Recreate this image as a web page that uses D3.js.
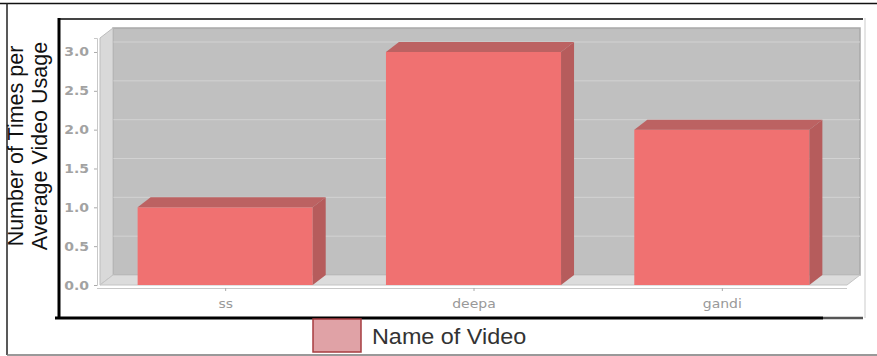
<!DOCTYPE html>
<html>
<head>
<meta charset="utf-8">
<script src="https://cdn.jsdelivr.net/npm/d3@7"></script>
<style>
  html, body { margin: 0; padding: 0; background: #fff; }
  svg { display: block; }
</style>
</head>
<body>
<svg id="chart" width="877" height="356"></svg>
<script>
// Video usage data
const categories = ["ss", "deepa", "gandi"];
const usageValues = [1.0, 3.0, 2.0];
const yTicks = [0.0, 0.5, 1.0, 1.5, 2.0, 2.5, 3.0];
const yTitleLines = ["Number of Times per", "Average Video Usage"];
const legendLabel = "Name of Video";

const svg = d3.select("#chart");

// 3D depth offset of the back wall relative to the front plane
const DX = 13, DY = -10;

// Front plane of the plot
const plot = { left: 100, right: 847, top: 38, bottom: 285 };

const y = d3.scaleLinear().domain([0, 3.18]).range([plot.bottom, plot.top]);
const x = d3.scalePoint().domain(categories).range([101, 846]).padding(0.5);
const barW = x.step() * 0.705;

// Outer frame
svg.append("line").attr("x1", 0).attr("x2", 877).attr("y1", 3.5).attr("y2", 3.5)
  .attr("stroke", "#111").attr("stroke-width", 1.5);
svg.append("line").attr("x1", 7).attr("x2", 7).attr("y1", 3).attr("y2", 355)
  .attr("stroke", "#222").attr("stroke-width", 1.5);
svg.append("line").attr("x1", 7).attr("x2", 877).attr("y1", 355).attr("y2", 355)
  .attr("stroke", "#777").attr("stroke-width", 1.5);

// Inner panel frame
svg.append("line").attr("x1", 58).attr("x2", 863).attr("y1", 19).attr("y2", 19)
  .attr("stroke", "#444").attr("stroke-width", 2);
svg.append("line").attr("x1", 865).attr("x2", 865).attr("y1", 18).attr("y2", 318)
  .attr("stroke", "#ddd").attr("stroke-width", 1.5);
svg.append("line").attr("x1", 59).attr("x2", 59).attr("y1", 18).attr("y2", 319)
  .attr("stroke", "#000").attr("stroke-width", 3);
svg.append("line").attr("x1", 55).attr("x2", 823).attr("y1", 318).attr("y2", 318)
  .attr("stroke", "#000").attr("stroke-width", 3);
svg.append("line").attr("x1", 823).attr("x2", 863).attr("y1", 318).attr("y2", 318)
  .attr("stroke", "#555").attr("stroke-width", 2.5);

// Back wall
const g = svg.append("g");
g.append("rect")
  .attr("x", plot.left + DX).attr("y", plot.top + DY)
  .attr("width", plot.right - plot.left).attr("height", plot.bottom - plot.top)
  .attr("fill", "#c0c0c0").attr("stroke", "#a9a9a9").attr("stroke-width", 1.5);

// Gridlines on the back wall
g.selectAll("line.grid").data(yTicks.filter(d => d > 0)).join("line")
  .attr("class", "grid")
  .attr("x1", plot.left + DX).attr("x2", plot.right + DX)
  .attr("y1", d => y(d) + DY).attr("y2", d => y(d) + DY)
  .attr("stroke", "#d2d2d2").attr("stroke-width", 1);

// Left wall and floor
g.append("polygon")
  .attr("points", [[plot.left, plot.top], [plot.left + DX, plot.top + DY],
    [plot.left + DX, plot.bottom + DY], [plot.left, plot.bottom]].join(" "))
  .attr("fill", "#d9d9d9").attr("stroke", "#bdbdbd").attr("stroke-width", 1);
g.append("polygon")
  .attr("points", [[plot.left, plot.bottom], [plot.left + DX, plot.bottom + DY],
    [plot.right + DX, plot.bottom + DY], [plot.right, plot.bottom]].join(" "))
  .attr("fill", "#dcdcdc").attr("stroke", "#c4c4c4").attr("stroke-width", 1);

// Bars
const bars = g.selectAll("g.bar").data(categories.map((c, i) => ({ c, v: usageValues[i] })))
  .join("g").attr("class", "bar");
bars.append("rect")
  .attr("x", d => x(d.c) - barW / 2).attr("y", d => y(d.v))
  .attr("width", barW).attr("height", d => y(0) - y(d.v))
  .attr("fill", "#f07171");
bars.append("polygon")
  .attr("points", d => {
    const x1 = x(d.c) + barW / 2, yt = y(d.v), yb = y(0);
    return [[x1, yt], [x1 + DX, yt + DY], [x1 + DX, yb + DY], [x1, yb]].join(" ");
  })
  .attr("fill", "#b65c5c");
bars.append("polygon")
  .attr("points", d => {
    const x0 = x(d.c) - barW / 2, x1 = x(d.c) + barW / 2, yt = y(d.v);
    return [[x0, yt], [x0 + DX, yt + DY], [x1 + DX, yt + DY], [x1, yt]].join(" ");
  })
  .attr("fill", "#bc6262");

// Y axis
const yAxis = svg.append("g").attr("transform", `translate(97,0)`)
  .call(d3.axisLeft(y).tickValues(yTicks).tickFormat(d3.format(".1f")).tickSize(3).tickPadding(5));
yAxis.select(".domain").attr("stroke", "#c8c8c8");
yAxis.selectAll(".tick line").attr("stroke", "#aaa");
yAxis.selectAll(".tick text")
  .attr("fill", "#a2a2a2")
  .style("font-family", "'DejaVu Sans', Verdana, sans-serif")
  .style("font-size", "12.5px")
  .style("font-weight", "bold")
  .attr("transform", function () {
    const xx = +d3.select(this).attr("x");
    return `translate(${xx},0) scale(1.12,1) translate(${-xx},0)`;
  });

// X axis
const xAxis = svg.append("g").attr("transform", `translate(0,288)`)
  .call(d3.axisBottom(x).tickSize(3).tickPadding(8));
xAxis.select(".domain").attr("d", `M97,0.5H${plot.right}`).attr("stroke", "#c8c8c8");
xAxis.selectAll(".tick line").attr("stroke", "#aaa");
xAxis.selectAll(".tick text")
  .attr("fill", "#999")
  .style("font-family", "'DejaVu Sans', Verdana, sans-serif")
  .style("font-size", "12.5px")
  .attr("transform", "scale(1.12,1)");

// Y axis title
const title = svg.append("text")
  .attr("transform", "translate(23,146) rotate(-90)")
  .attr("text-anchor", "middle")
  .style("font-family", "'Liberation Sans', Arial, sans-serif")
  .style("font-size", "21.5px")
  .attr("fill", "#111");
title.append("tspan").attr("x", 0).attr("y", 0).text(yTitleLines[0]);
title.append("tspan").attr("x", 0).attr("y", 23.5).text(yTitleLines[1]);

// Legend
svg.append("rect").attr("x", 313).attr("y", 319).attr("width", 48).attr("height", 33)
  .attr("fill", "#e0a2a6").attr("stroke", "#a63c40").attr("stroke-width", 1.5);
svg.append("text").attr("x", 372).attr("y", 344)
  .style("font-family", "'Liberation Sans', Arial, sans-serif")
  .style("font-size", "22.5px")
  .attr("fill", "#333")
  .attr("transform", "translate(372,0) scale(1.04,1) translate(-372,0)")
  .text(legendLabel);
</script>
</body>
</html>
